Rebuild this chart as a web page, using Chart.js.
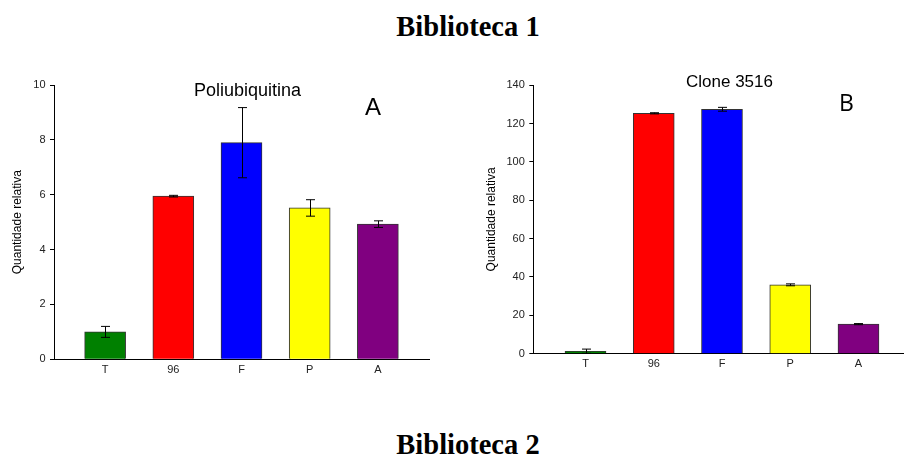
<!DOCTYPE html>
<html lang="pt">
<head>
<meta charset="UTF-8">
<title>Biblioteca 1</title>
<script src="https://cdn.jsdelivr.net/npm/chart.js"></script>
<style>
    body { margin: 0; background: #fff; width: 904px; height: 456px; overflow: hidden; position: relative; }
    .lbl { position: absolute; line-height: 1; white-space: nowrap; color: #000; }
    .head { font-family: "Liberation Serif", "Times New Roman", serif; font-weight: bold; font-size: 28.5px; width: 300px; text-align: center; left: 318px; }
    .ttl { font-family: "Liberation Sans", Arial, sans-serif; }
    canvas { position: absolute; }
</style>
</head>
<body>
<div class="lbl head" style="top:13px">Biblioteca 1</div>
<div class="lbl head" style="top:431px">Biblioteca 2</div>

<canvas id="chartA" width="450" height="312" style="left:0; top:74px"></canvas>
<canvas id="chartB" width="434" height="312" style="left:470px; top:74px"></canvas>

<div class="lbl ttl" style="left:194px; top:81px; font-size:18px">Poliubiquitina</div>
<div class="lbl ttl" style="left:365px; top:95px; font-size:24px">A</div>
<div class="lbl ttl" style="left:686px; top:73px; font-size:17px">Clone 3516</div>
<div class="lbl" style="left:839px; top:91px; font-size:23px; font-family:'Open Sans', sans-serif">B</div>

<script>
    // dados
    const CATS = ['T', '96', 'F', 'P', 'A'];
    const COLORS = ['#008000', '#ff0000', '#0000ff', '#ffff00', '#800080'];

    const POLI_VALS = [1.0, 5.95, 7.9, 5.52, 4.93];
    const POLI_ERR = [0.2, 0.03, 1.28, 0.3, 0.12];
    const POLI_TICKS = [0, 2, 4, 6, 8, 10];

    const CLONE_VALS = [1.3, 125.3, 127.4, 35.9, 15.4];
    const CLONE_ERR = [1.1, 0.3, 1.0, 0.5, 0.3];
    const CLONE_TICKS = [0, 20, 40, 60, 80, 100, 120, 140];

    const TICK_FONT = { family: 'Liberation Sans, Arial, sans-serif', size: 11 };

    // barras de erro desenhadas com as escalas do gráfico
    const errorBars = {
        id: 'errorBars',
        afterDatasetsDraw(chart, args, opts) {
            const ctx = chart.ctx;
            const y = chart.scales.y;
            const meta = chart.getDatasetMeta(0);
            const vals = chart.data.datasets[0].data;
            const area = chart.chartArea;
            ctx.save();
            ctx.beginPath();
            ctx.rect(area.left, area.top - 20, area.right - area.left, area.bottom - area.top + 20);
            ctx.clip();
            ctx.strokeStyle = '#000';
            ctx.lineWidth = 1;
            meta.data.forEach((bar, i) => {
                const v = vals[i].y, e = opts.err[i];
                const x = Math.round(bar.x) + 0.5;
                const hi = y.getPixelForValue(v + e);
                const lo = y.getPixelForValue(v - e);
                ctx.beginPath();
                ctx.moveTo(x, hi); ctx.lineTo(x, lo);
                ctx.moveTo(x - 4.5, hi); ctx.lineTo(x + 4.5, hi);
                ctx.moveTo(x - 4.5, lo); ctx.lineTo(x + 4.5, lo);
                ctx.stroke();
            });
            ctx.restore();
        }
    };

    function makeChart(id, vals, errs, yTicks, cfg) {
        new Chart(document.getElementById(id), {
            type: 'bar',
            data: {
                datasets: [{
                    data: vals.map((v, i) => ({ x: i, y: v })),
                    backgroundColor: COLORS,
                    borderColor: '#333',
                    borderWidth: 1,
                    barThickness: 41
                }]
            },
            plugins: [errorBars],
            options: {
                responsive: false,
                animation: false,
                layout: { padding: cfg.padding },
                plugins: {
                    legend: { display: false },
                    tooltip: { enabled: false },
                    errorBars: { err: errs }
                },
                scales: {
                    x: {
                        type: 'linear',
                        offset: false,
                        min: cfg.xMin,
                        max: cfg.xMax,
                        grid: { display: false, drawTicks: false, offset: false },
                        border: { color: '#000', width: 1 },
                        afterBuildTicks: axis => { axis.ticks = CATS.map((c, i) => ({ value: i })); },
                        afterFit: axis => { axis.height = cfg.xHeight; },
                        ticks: {
                            padding: 4,
                            maxRotation: 0,
                            color: '#222',
                            font: TICK_FONT,
                            callback: v => CATS[v]
                        }
                    },
                    y: {
                        min: yTicks[0],
                        max: yTicks[yTicks.length - 1],
                        grid: { drawOnChartArea: false, drawTicks: true, tickLength: 4, color: '#000' },
                        border: { color: '#000', width: 1 },
                        afterBuildTicks: axis => { axis.ticks = yTicks.map(v => ({ value: v })); },
                        afterFit: axis => { axis.width = cfg.yWidth; },
                        ticks: { padding: 4.5, color: '#222', font: TICK_FONT },
                        title: {
                            display: true,
                            text: 'Quantidade relativa',
                            color: '#000',
                            font: { family: 'Liberation Sans, Arial, sans-serif', size: 12 },
                            padding: { top: cfg.titlePad, bottom: 0 }
                        }
                    }
                }
            }
        });
    }

    makeChart('chartA', POLI_VALS, POLI_ERR, POLI_TICKS, {
        padding: { top: 10, left: 0, right: 21, bottom: 0 },
        xMin: -0.75, xMax: 4.75, xHeight: 26.7, yWidth: 54, titlePad: 10.5
    });

    makeChart('chartB', CLONE_VALS, CLONE_ERR, CLONE_TICKS, {
        padding: { top: 9.3, left: 0, right: 0, bottom: 0 },
        xMin: -0.765, xMax: 4.667, xHeight: 32.3, yWidth: 63.3, titlePad: 14.5
    });
</script>
</body>
</html>
